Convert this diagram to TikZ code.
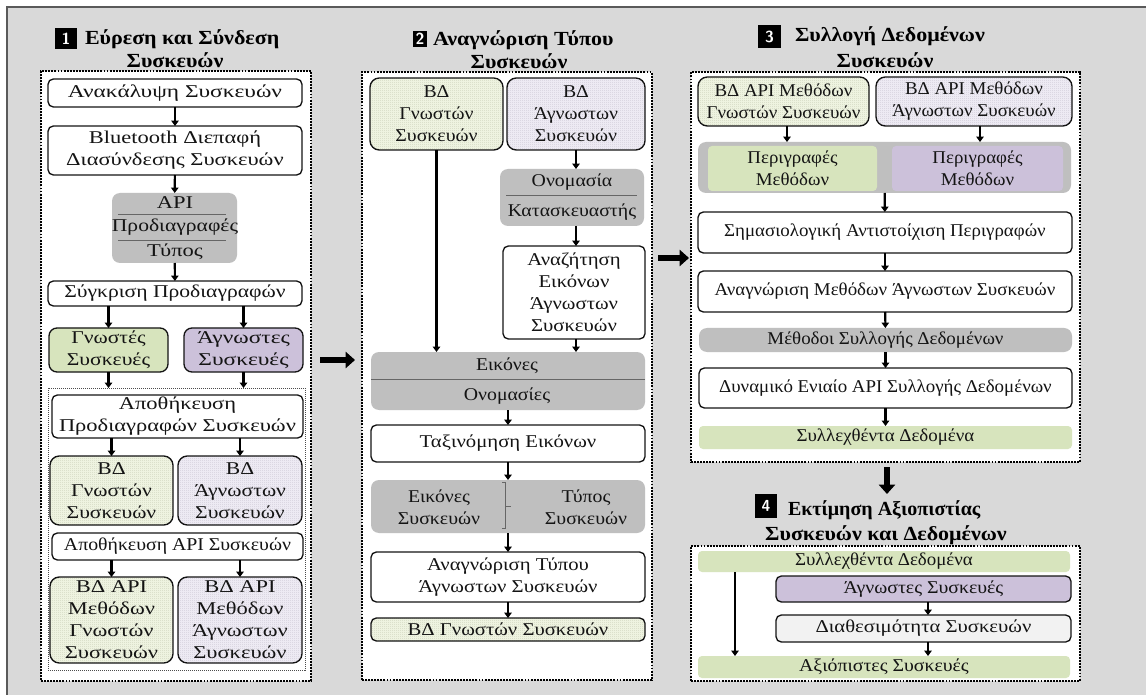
\documentclass[tikz,border=0pt]{standalone}
\usepackage{fontspec}
\setmainfont{Liberation Serif}
% the same serif face at several horizontal widths
\newfontfamily\fsa{Liberation Serif}[FakeStretch=1.05]
\newfontfamily\fsb{Liberation Serif}[FakeStretch=1.1]
\newfontfamily\fsc{Liberation Serif}[FakeStretch=1.15]
\newfontfamily\fsd{Liberation Serif}[FakeStretch=1.2]
\newfontfamily\fse{Liberation Serif}[FakeStretch=1.25]
\newfontfamily\fsf{Liberation Serif}[FakeStretch=1.3]
\usetikzlibrary{arrows.meta,patterns}

\definecolor{bgcol}{HTML}{D9D9D9}
\definecolor{edgecol}{HTML}{5A5A5A}
\definecolor{inkcol}{HTML}{141414}
\definecolor{grycol}{HTML}{BFBFBF}
\definecolor{grncol}{HTML}{D7E4BD}
\definecolor{purcol}{HTML}{CCC1DA}
\definecolor{grnlite}{HTML}{EEF3E0}
\definecolor{grndots}{HTML}{C2C8B0}
\definecolor{purlite}{HTML}{EDEAF3}
\definecolor{purdots}{HTML}{C3BFCB}
\definecolor{avlcol}{HTML}{F2F2F2}

% fine dot grid used for the database boxes
\pgfdeclarepatternformonly{finedots}{\pgfqpoint{0pt}{0pt}}{\pgfqpoint{1.5pt}{1.5pt}}{\pgfqpoint{1.5pt}{1.5pt}}%
  {\pgfpathrectangle{\pgfqpoint{0pt}{0pt}}{\pgfqpoint{0.75pt}{0.75pt}}\pgfusepath{fill}}

% box given by its corners: name, style, x1, y1, x2, y2, text
\newcommand\flowbox[7]{%
  \node[#2, minimum width={(#5-#3)*0.75pt}, minimum height={(#6-#4)*0.75pt}]
    (#1) at ({(#3+#5)/2},{(#4+#6)/2}) {#7};}

% face used by the boxes of the current section
\newcommand\panelfont{\fsb}

\begin{document}
\begin{tikzpicture}[x=0.75pt,y=-0.75pt,
  txt/.style={font=\panelfont\fontsize{13.5}{16.5}\selectfont, text=inkcol, align=center,
    inner sep=0pt, outer sep=0pt},
  fs/.style={font=#1\fontsize{13.5}{16.5}\selectfont},
  boxbase/.style={txt, draw=inkcol, line width=1pt, rounded corners=4pt},
  wbox/.style={boxbase, fill=white},
  gbox/.style={txt, fill=grycol, rounded corners=6pt},
  gfill/.style={txt, fill=grncol, rounded corners=3pt},
  pfill/.style={txt, fill=purcol, rounded corners=3pt},
  gsolid/.style={boxbase, fill=grncol, rounded corners=6pt},
  psolid/.style={boxbase, fill=purcol, rounded corners=4pt},
  avail/.style={boxbase, fill=avlcol, rounded corners=4pt},
  gdb/.style={boxbase, rounded corners=7pt, preaction={fill=grnlite},
    pattern=finedots, pattern color=grndots},
  pdb/.style={boxbase, rounded corners=7pt, preaction={fill=purlite},
    pattern=finedots, pattern color=purdots},
  frame/.style={draw=black, fill=white, line width=1.5pt,
    dash pattern=on 1.4pt off 0.9pt, inner sep=0pt, outer sep=0pt},
  subframe/.style={draw=black!70, line width=0.5pt,
    dash pattern=on 0.75pt off 0.75pt, inner sep=0pt, outer sep=0pt},
  arr/.style={draw=black, line width=1.6pt, -{Triangle[width=5.5pt,length=4pt]}},
  bigarr/.style={draw=black, line width=5pt, -{Triangle[width=12pt,length=7pt]}},
  sepline/.style={draw=black!60, line width=0.6pt},
  title/.style={font=\fsb\fontsize{15}{18}\bfseries\selectfont, text=black,
    inner sep=0pt, outer sep=0pt},
  tfs/.style={font=#1\fontsize{15}{18}\bfseries\selectfont},
  numbox/.style={fill=black, text=white, font=\sffamily\bfseries\fontsize{12}{14}\selectfont,
    inner sep=0pt, outer sep=0pt}
]
\useasboundingbox (0,0) rectangle (1146,695);
\fill[white] (0,0) rectangle (1146,695);
\fill[bgcol] (7,7) rectangle (1146,695);
\draw[edgecol, line width=1pt] (7,695) -- (7,7) -- (1146,7);

% ---------- section frames ----------
\flowbox{p1}{frame}{41}{71}{311}{681}{}
\flowbox{p2}{frame}{362}{72}{652}{680}{}
\flowbox{p3}{frame}{691}{72}{1080}{462}{}
\flowbox{p4}{frame}{691}{546}{1080}{681}{}

% ---------- titles ----------
\flowbox{n1}{numbox}{55}{28}{77}{49}{1}
\node[title, anchor=west] (t1a) at (85,39) {Εύρεση και Σύνδεση};
\node[title] (t1b) at (175,60) {Συσκευών};
\flowbox{n2}{numbox}{413}{31}{427}{47}{2}
\node[title, anchor=west] (t2a) at (433,40) {Αναγνώριση Τύπου};
\node[title] (t2b) at (519,61) {Συσκευών};
\flowbox{n3}{numbox}{758}{25}{781}{48}{3}
\node[title, anchor=west] (t3a) at (795,36) {Συλλογή Δεδομένων};
\node[title] (t3b) at (885,60) {Συσκευών};
\flowbox{n4}{numbox}{755}{494}{777}{518}{4}
\node[title, tfs=\rmfamily, anchor=west] (t4a) at (788,510) {Εκτίμηση Αξιοπιστίας};
\node[title] (t4b) at (886,535) {Συσκευών και Δεδομένων};

% ---------- 1: discovery and connection ----------
\begin{scope}
\renewcommand\panelfont{\fse}
\flowbox{p1a}{wbox, fs=\fsf}{48}{79}{302}{107}{Ανακάλυψη Συσκευών}
\flowbox{p1b}{wbox}{48}{126}{302}{175}{Bluetooth Διεπαφή\\Διασύνδεσης Συσκευών}
\flowbox{p1c}{gbox}{112}{193}{237}{263}{}
\node[txt] (p1c1) at (175,203) {API};
\node[txt, fs=\fsd] (p1c2) at (175,227) {Προδιαγραφές};
\node[txt] (p1c3) at (175,252) {Τύπος};
\draw[sepline] (118,214) -- (226,214);
\draw[sepline] (118,240) -- (226,240);
\flowbox{p1d}{wbox, fs=\fsd}{48}{281}{302}{306}{Σύγκριση Προδιαγραφών}
\flowbox{p1e}{gsolid, fs=\fsd}{49}{328}{168}{372}{Γνωστές\\Συσκευές}
\flowbox{p1f}{psolid, fs=\fsf, rounded corners=6pt}{184}{328}{303}{372}{Άγνωστες\\Συσκευές}
\flowbox{p1g}{subframe}{48}{388}{305}{670}{}
\flowbox{p1h}{wbox}{52}{395}{303}{438}{Αποθήκευση\\Προδιαγραφών Συσκευών}
\flowbox{p1i}{gdb, fs=\fsd}{50}{456}{173}{525}{ΒΔ\\Γνωστών\\Συσκευών}
\flowbox{p1j}{pdb, fs=\fsd}{178}{456}{302}{525}{ΒΔ\\Άγνωστων\\Συσκευών}
\flowbox{p1k}{wbox, fs=\fsb}{52}{533}{303}{560}{Αποθήκευση API Συσκευών}
\flowbox{p1l}{gdb}{50}{577}{173}{663}{ΒΔ API\\Μεθόδων\\Γνωστών\\Συσκευών}
\flowbox{p1m}{pdb}{178}{577}{302}{663}{ΒΔ API\\Μεθόδων\\Άγνωστων\\Συσκευών}
\end{scope}

\draw[arr] (p1a) -- (p1b);
\draw[arr] (p1b) -- (p1c);
\draw[arr] (p1c) -- (p1d);
\draw[arr] (p1d.south -| p1e) -- (p1e);
\draw[arr] (p1d.south -| p1f) -- (p1f);
\draw[arr] (p1e) -- (p1e |- p1g.north);
\draw[arr] (p1f) -- (p1f |- p1g.north);
\draw[arr] (p1h.south -| p1i) -- (p1i);
\draw[arr] (p1h.south -| p1j) -- (p1j);
\draw[arr] (p1k.south -| p1l) -- (p1l);
\draw[arr] (p1k.south -| p1m) -- (p1m);

% ---------- 2: device type recognition ----------
\begin{scope}
\renewcommand\panelfont{\fsb}
\flowbox{p2a}{gdb}{370}{78}{503}{150}{ΒΔ\\Γνωστών\\Συσκευών}
\flowbox{p2b}{pdb}{507}{78}{645}{150}{ΒΔ\\Άγνωστων\\Συσκευών}
\flowbox{p2c}{gbox}{500}{169}{644}{226}{}
\node[txt] (p2c1) at (572,182) {Ονομασία};
\node[txt] (p2c2) at (572,212) {Κατασκευαστής};
\draw[sepline] (506,195) -- (637,195);
\flowbox{p2d}{wbox, fs=\fsc}{503}{246}{645}{339}{Αναζήτηση\\Εικόνων\\Άγνωστων\\Συσκευών}
\flowbox{p2e}{gbox}{371}{352}{645}{410}{}
\node[txt] (p2e1) at (507,366) {Εικόνες};
\node[txt] (p2e2) at (507,396) {Ονομασίες};
\draw[sepline] (371,379) -- (645,379);
\flowbox{p2f}{wbox, fs=\fsc}{371}{425}{645}{462}{Ταξινόμηση Εικόνων}
\flowbox{p2g}{gbox}{371}{480}{645}{533}{}
\node[txt] (p2g1) at (439,507) {Εικόνες\\Συσκευών};
\node[txt] (p2g2) at (586,507) {Τύπος\\Συσκευών};
\draw[sepline] (502,482) -- (505,482) -- (505,528) -- (502,528);
\draw[sepline] (505,506) -- (511,506);
\flowbox{p2h}{wbox, fs=\fsc}{371}{552}{645}{602}{Αναγνώριση Τύπου\\Άγνωστων Συσκευών}
\flowbox{p2i}{gdb, fs=\fsc, rounded corners=4pt}{371}{618}{645}{641}{ΒΔ Γνωστών Συσκευών}
\end{scope}

\draw[arr] (p2a) -- (p2a |- p2e.north);
\draw[arr] (p2b) -- (p2b |- p2c.north);
\draw[arr] (p2c.south -| p2b) -- (p2b |- p2d.north);
\draw[arr] (p2d.south -| p2b) -- (p2b |- p2e.north);
\draw[arr] (p2e) -- (p2f);
\draw[arr] (p2f) -- (p2g);
\draw[arr] (p2g) -- (p2h);
\draw[arr] (p2h) -- (p2i);

% ---------- 3: data collection ----------
\begin{scope}
\renewcommand\panelfont{\fsa}
\flowbox{p3a}{gdb}{698}{77}{869}{126}{ΒΔ API Μεθόδων\\Γνωστών Συσκευών}
\flowbox{p3b}{pdb}{876}{77}{1072}{126}{ΒΔ API Μεθόδων\\Άγνωστων Συσκευών}
\flowbox{p3c}{gbox}{698}{142}{1071}{193}{}
\flowbox{p3c1}{gfill}{708}{146}{877}{191}{Περιγραφές\\Μεθόδων}
\flowbox{p3c2}{pfill}{892}{146}{1063}{191}{Περιγραφές\\Μεθόδων}
\flowbox{p3d}{wbox}{698}{212}{1072}{253}{Σημασιολογική Αντιστοίχιση Περιγραφών}
\flowbox{p3e}{wbox}{698}{271}{1072}{312}{Αναγνώριση Μεθόδων Άγνωστων Συσκευών}
\flowbox{p3f}{gbox}{699}{328}{1072}{352}{Μέθοδοι Συλλογής Δεδομένων}
\flowbox{p3g}{wbox}{699}{368}{1072}{408}{Δυναμικό Ενιαίο API Συλλογής Δεδομένων}
\flowbox{p3h}{gfill}{699}{426}{1072}{449}{Συλλεχθέντα Δεδομένα}
\end{scope}

\coordinate (p3ax) at (787,0);
\coordinate (p3bx) at (980,0);
\draw[arr] (p3a.south -| p3ax) -- (p3c.north -| p3ax);
\draw[arr] (p3b.south -| p3bx) -- (p3c.north -| p3bx);
\draw[arr] (p3c) -- (p3d);
\draw[arr] (p3d) -- (p3e);
\draw[arr] (p3e) -- (p3f);
\draw[arr] (p3f) -- (p3g);
\draw[arr] (p3g) -- (p3h);

% ---------- 4: reliability estimation ----------
\begin{scope}
\renewcommand\panelfont{\fsb}
\flowbox{p4a}{gfill, fs=\fsa}{698}{551}{1070}{572}{Συλλεχθέντα Δεδομένα}
\flowbox{p4b}{psolid}{776}{576}{1071}{602}{Άγνωστες Συσκευές}
\flowbox{p4c}{avail, fs=\fsc}{776}{615}{1071}{642}{Διαθεσιμότητα Συσκευών}
\flowbox{p4d}{gfill}{698}{656}{1070}{678}{Αξιόπιστες Συσκευές}
\end{scope}

\coordinate (p4x) at (735,0);
\coordinate (p4y) at (928,0);
\draw[arr] (p4a.south -| p4x) -- (p4d.north -| p4x);
\draw[arr] (p4b.south -| p4y) -- (p4c.north -| p4y);
\draw[arr] (p4c.south -| p4y) -- (p4d.north -| p4y);

% ---------- flow between sections ----------
\coordinate (s12) at (320,360);
\coordinate (e12) at (355,360);
\coordinate (s23) at (658,258);
\coordinate (e23) at (689,258);
\coordinate (s34) at (887,467);
\coordinate (e34) at (887,494);
\draw[bigarr] (s12) -- (e12);
\draw[bigarr] (s23) -- (e23);
\draw[bigarr] (s34) -- (e34);
\end{tikzpicture}
\end{document}
